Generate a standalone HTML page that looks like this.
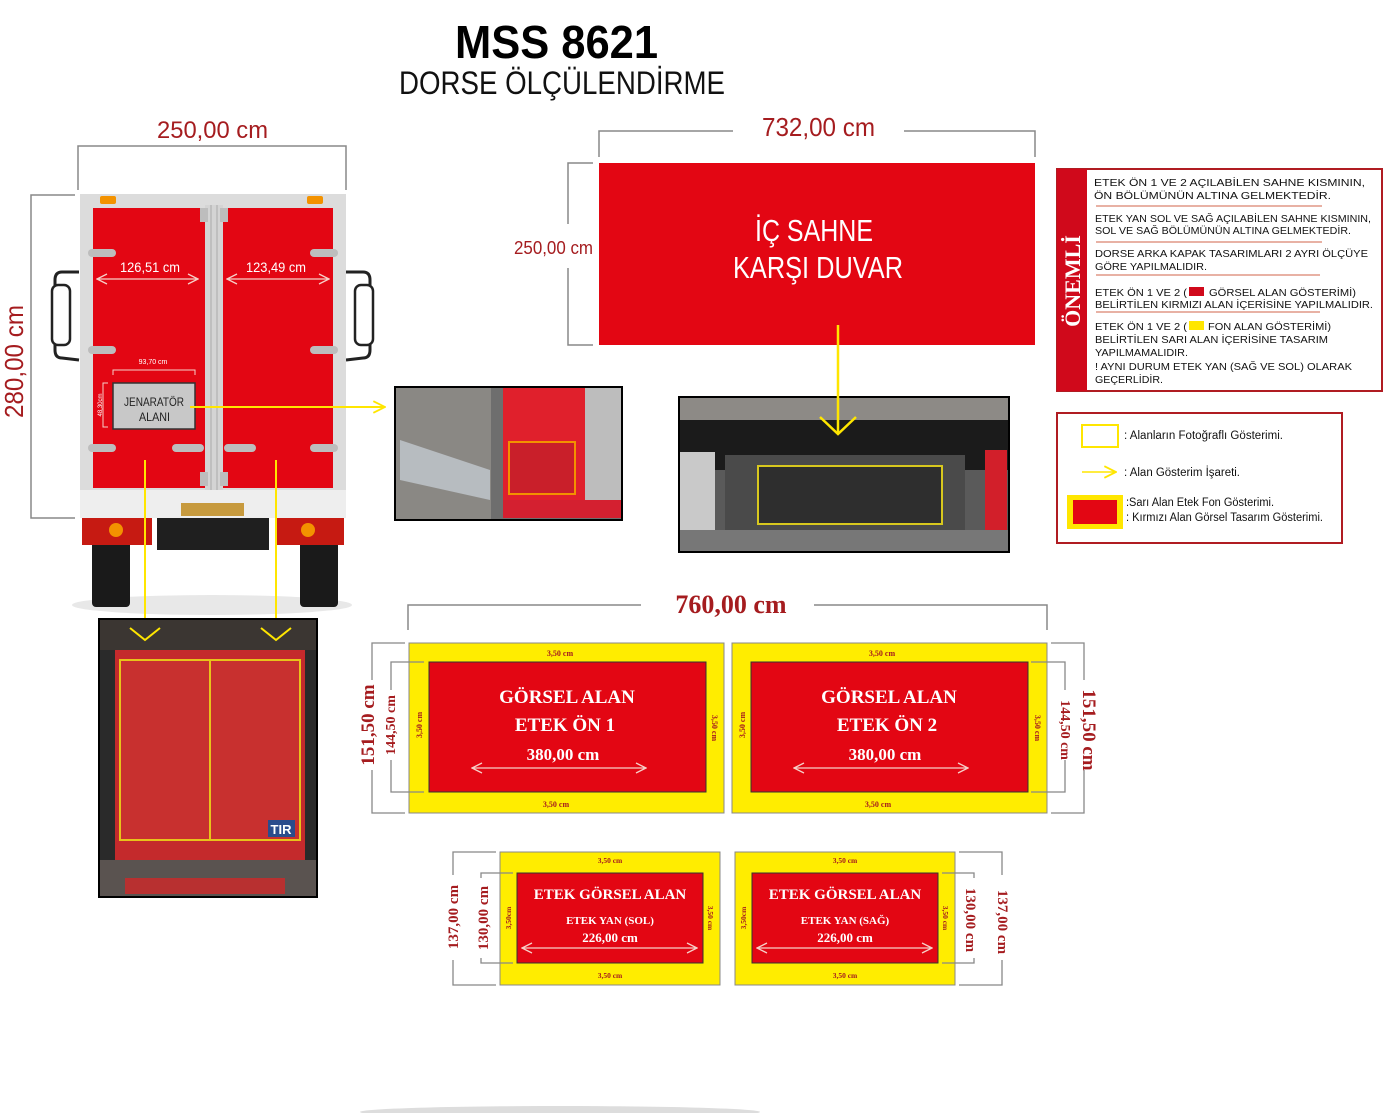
<!DOCTYPE html>
<html><head><meta charset="utf-8"><style>
html,body{margin:0;padding:0;background:#fff;width:1392px;height:1113px;overflow:hidden}
svg{display:block}
.s{font-family:"Liberation Sans Narrow","Liberation Sans",sans-serif}
.a{font-family:"Liberation Sans",sans-serif}
.f{font-family:"Liberation Serif",serif;font-weight:bold}
</style></head><body>
<svg width="1392" height="1113" viewBox="0 0 1392 1113" xmlns="http://www.w3.org/2000/svg">
<defs>
<marker id="ya" viewBox="0 0 12 12" refX="11" refY="6" markerWidth="14" markerHeight="14" orient="auto" markerUnits="userSpaceOnUse"><path d="M1,1 L11,6 L1,11" fill="none" stroke="#ffe600" stroke-width="1.6"/></marker>
<marker id="wa" viewBox="0 0 12 12" refX="11" refY="6" markerWidth="12" markerHeight="12" orient="auto-start-reverse" markerUnits="userSpaceOnUse"><path d="M1,1 L11,6 L1,11" fill="none" stroke="#f6d0c8" stroke-width="1.3"/></marker>
</defs>

<!-- Title -->
<text x="455" y="58" textLength="203" lengthAdjust="spacingAndGlyphs" class="s" font-weight="bold" font-size="46" fill="#000">MSS 8621</text>
<text x="399" y="94" textLength="326" lengthAdjust="spacingAndGlyphs" class="s" font-size="32" fill="#111">DORSE ÖLÇÜLENDİRME</text>

<!-- Truck dims -->
<text x="157" y="138" textLength="111" lengthAdjust="spacingAndGlyphs" class="s" font-size="24" fill="#a51c1f">250,00 cm</text>
<path d="M78,190 V146 H346 V190" fill="none" stroke="#888" stroke-width="1.5"/>
<path d="M75,195 H31 V518 H75" fill="none" stroke="#888" stroke-width="1.5"/>
<text transform="translate(23,418) rotate(-90)" textLength="113" lengthAdjust="spacingAndGlyphs" class="s" font-size="26" fill="#a51c1f">280,00 cm</text>

<!-- Truck -->
<ellipse cx="212" cy="605" rx="140" ry="10" fill="#e8e8e8"/>
<rect x="92" y="540" width="38" height="67" rx="4" fill="#1a1a1a"/>
<rect x="300" y="540" width="38" height="67" rx="4" fill="#1a1a1a"/>
<rect x="157" y="517" width="112" height="33" fill="#1f1f1f"/>
<rect x="82" y="517" width="70" height="28" fill="#c61a12"/>
<rect x="276" y="517" width="68" height="28" fill="#c61a12"/>
<circle cx="116" cy="530" r="7" fill="#f39200"/>
<circle cx="308" cy="530" r="7" fill="#f39200"/>
<path d="M79,272 L62,272 Q55,272 55,280 L55,350 Q55,358 62,358 L79,360" fill="none" stroke="#222" stroke-width="3"/>
<rect x="52" y="285" width="18" height="60" rx="6" fill="#fff" stroke="#222" stroke-width="2.5"/>
<path d="M346,272 L363,272 Q370,272 370,280 L370,350 Q370,358 363,358 L346,360" fill="none" stroke="#222" stroke-width="3"/>
<rect x="355" y="285" width="18" height="60" rx="6" fill="#fff" stroke="#222" stroke-width="2.5"/>
<rect x="80" y="194" width="266" height="324" fill="#dcdcdc"/>
<rect x="80" y="490" width="266" height="28" fill="#eeeeee"/>
<rect x="181" y="503" width="63" height="13" fill="#c79a3e"/>
<rect x="100" y="196" width="16" height="8" rx="2" fill="#f39200"/>
<rect x="307" y="196" width="16" height="8" rx="2" fill="#f39200"/>
<rect x="93" y="208" width="112" height="280" fill="#e30613"/>
<rect x="223" y="208" width="110" height="280" fill="#e30613"/>
<rect x="205" y="205" width="18" height="285" fill="#d4d4d4"/>
<line x1="211" y1="205" x2="211" y2="490" stroke="#aaa"/>
<line x1="217" y1="205" x2="217" y2="490" stroke="#aaa"/>
<g fill="#bdbdbd">
<rect x="88" y="249" width="28" height="8" rx="4"/><rect x="310" y="249" width="28" height="8" rx="4"/>
<rect x="88" y="346" width="28" height="8" rx="4"/><rect x="310" y="346" width="28" height="8" rx="4"/>
<rect x="88" y="444" width="28" height="8" rx="4"/><rect x="310" y="444" width="28" height="8" rx="4"/>
<rect x="172" y="444" width="32" height="8" rx="4"/><rect x="224" y="444" width="32" height="8" rx="4"/>
<rect x="200" y="208" width="8" height="14"/><rect x="220" y="208" width="8" height="14"/>
<rect x="200" y="472" width="8" height="14"/><rect x="220" y="472" width="8" height="14"/>
</g>
<text x="120" y="272" textLength="60" lengthAdjust="spacingAndGlyphs" class="s" font-size="14" fill="#fff">126,51 cm</text>
<line x1="97" y1="279" x2="198" y2="279" stroke="#f6d0c8" stroke-width="1.3" marker-start="url(#wa)" marker-end="url(#wa)"/>
<text x="246" y="272" textLength="60" lengthAdjust="spacingAndGlyphs" class="s" font-size="14" fill="#fff">123,49 cm</text>
<line x1="227" y1="279" x2="329" y2="279" stroke="#f6d0c8" stroke-width="1.3" marker-start="url(#wa)" marker-end="url(#wa)"/>
<text x="153" y="364" text-anchor="middle" class="s" font-size="7" fill="#fff">93,70 cm</text>
<path d="M113,375 V370 H195 V375" fill="none" stroke="#f6d0c8"/>
<path d="M108,383 H103 V427 H108" fill="none" stroke="#f6d0c8"/>
<text transform="translate(102,405) rotate(-90)" text-anchor="middle" class="s" font-size="6" fill="#fff">48,30cm</text>
<rect x="113" y="383" width="82" height="46" fill="#c8c8c8" stroke="#333" stroke-width="1.5"/>
<text x="124" y="406" textLength="60" lengthAdjust="spacingAndGlyphs" class="s" font-size="12" fill="#222">JENARATÖR</text>
<text x="139" y="421" textLength="31" lengthAdjust="spacingAndGlyphs" class="s" font-size="12" fill="#222">ALANI</text>

<!-- yellow arrows -->
<line x1="190" y1="407" x2="385" y2="407" stroke="#ffe600" stroke-width="2" marker-end="url(#ya)"/>
<line x1="145" y1="460" x2="145" y2="640" stroke="#ffe600" stroke-width="2"/>
<line x1="276" y1="460" x2="276" y2="640" stroke="#ffe600" stroke-width="2"/>

<!-- Photo 1 -->
<rect x="99" y="619" width="218" height="278" fill="#2a2a2a" stroke="#000" stroke-width="2"/>
<rect x="100" y="620" width="216" height="30" fill="#3b3632"/>
<rect x="115" y="650" width="190" height="210" fill="#c42a2c"/>
<rect x="120" y="660" width="180" height="180" fill="#c8302f" stroke="#e8c21a" stroke-width="2"/>
<line x1="210" y1="660" x2="210" y2="840" stroke="#e8c21a" stroke-width="2"/>
<rect x="268" y="820" width="27" height="17" fill="#2a4c8c"/>
<text x="281" y="834" text-anchor="middle" class="a" font-weight="bold" font-size="13" fill="#fff">TIR</text>
<rect x="100" y="860" width="216" height="36" fill="#5a5350"/>
<rect x="125" y="878" width="160" height="16" fill="#b83030"/>
<path d="M130,628 L145,640 L160,628" fill="none" stroke="#ffe600" stroke-width="2"/>
<path d="M261,628 L276,640 L291,628" fill="none" stroke="#ffe600" stroke-width="2"/>

<!-- Photo 2 -->
<rect x="395" y="387" width="227" height="133" fill="#6e6e6e" stroke="#000" stroke-width="2"/>
<rect x="396" y="388" width="95" height="131" fill="#8a8884"/>
<path d="M400,440 L490,470 L490,500 L400,480 Z" fill="#b7bcc0"/>
<rect x="585" y="388" width="36" height="120" fill="#bdbdbd"/>
<rect x="503" y="388" width="82" height="120" fill="#e0202c"/>
<rect x="503" y="500" width="118" height="18" fill="#d42030"/>
<rect x="509" y="442" width="66" height="52" fill="#c91f2a" stroke="#f39200" stroke-width="2"/>

<!-- Red wall -->
<path d="M599,157 V131 H733 M904,131 H1035 V157" fill="none" stroke="#888" stroke-width="1.5"/>
<text x="762" y="136" textLength="113" lengthAdjust="spacingAndGlyphs" class="s" font-size="26" fill="#a51c1f">732,00 cm</text>
<path d="M593,163 H568 V224 M568,268 V345 H593" fill="none" stroke="#888" stroke-width="1.5"/>
<text x="514" y="254" textLength="79" lengthAdjust="spacingAndGlyphs" class="s" font-size="18" fill="#a51c1f">250,00 cm</text>
<rect x="599" y="163" width="436" height="182" fill="#e30613"/>
<text x="755" y="241" textLength="118" lengthAdjust="spacingAndGlyphs" class="s" font-size="31" fill="#fff">İÇ SAHNE</text>
<text x="733" y="278" textLength="170" lengthAdjust="spacingAndGlyphs" class="s" font-size="31" fill="#fff">KARŞI DUVAR</text>

<!-- Photo 3 -->
<rect x="679" y="397" width="330" height="155" fill="#5a5a5a" stroke="#000" stroke-width="2"/>
<rect x="680" y="398" width="328" height="22" fill="#8d8a86"/>
<rect x="680" y="420" width="328" height="50" fill="#1b1b1b"/>
<rect x="680" y="452" width="35" height="90" fill="#c9c9c9"/>
<rect x="725" y="455" width="240" height="90" fill="#4a4a4a"/>
<rect x="758" y="466" width="184" height="58" fill="#2e2e2e" stroke="#d8c81e" stroke-width="2"/>
<rect x="985" y="450" width="22" height="92" fill="#d21f2a"/>
<rect x="680" y="530" width="328" height="21" fill="#777"/>
<line x1="838" y1="325" x2="838" y2="433" stroke="#ffe600" stroke-width="2.5"/>
<path d="M820,417 L838,434 L856,417" fill="none" stroke="#ffe600" stroke-width="2.5"/>

<!-- ÖNEMLİ notes -->
<rect x="1057" y="169" width="325" height="222" fill="#fff" stroke="#b01c22" stroke-width="2"/>
<rect x="1057" y="169" width="30" height="222" fill="#d0091b"/>
<text transform="translate(1080,281) rotate(-90)" text-anchor="middle" class="f" font-size="22" fill="#fff">ÖNEMLİ</text>
<g class="a" font-size="10" fill="#111">
<text x="1094" y="186" textLength="271" lengthAdjust="spacingAndGlyphs">ETEK ÖN 1 VE 2 AÇILABİLEN SAHNE KISMININ,</text>
<text x="1094" y="199" textLength="237" lengthAdjust="spacingAndGlyphs">ÖN BÖLÜMÜNÜN ALTINA GELMEKTEDİR.</text>
<text x="1095" y="222" textLength="276" lengthAdjust="spacingAndGlyphs">ETEK YAN SOL VE SAĞ AÇILABİLEN SAHNE KISMININ,</text>
<text x="1095" y="234" textLength="256" lengthAdjust="spacingAndGlyphs">SOL VE SAĞ BÖLÜMÜNÜN ALTINA GELMEKTEDİR.</text>
<text x="1095" y="257" textLength="273" lengthAdjust="spacingAndGlyphs">DORSE ARKA KAPAK TASARIMLARI 2 AYRI ÖLÇÜYE</text>
<text x="1095" y="270" textLength="112" lengthAdjust="spacingAndGlyphs">GÖRE YAPILMALIDIR.</text>
<text x="1095" y="296" textLength="92" lengthAdjust="spacingAndGlyphs">ETEK ÖN 1 VE 2 (</text>
<text x="1209" y="296" textLength="147" lengthAdjust="spacingAndGlyphs">GÖRSEL ALAN GÖSTERİMİ)</text>
<text x="1095" y="308" textLength="278" lengthAdjust="spacingAndGlyphs">BELİRTİLEN KIRMIZI ALAN İÇERİSİNE YAPILMALIDIR.</text>
<text x="1095" y="330" textLength="92" lengthAdjust="spacingAndGlyphs">ETEK ÖN 1 VE 2 (</text>
<text x="1208" y="330" textLength="123" lengthAdjust="spacingAndGlyphs">FON ALAN GÖSTERİMİ)</text>
<text x="1095" y="343" textLength="233" lengthAdjust="spacingAndGlyphs">BELİRTİLEN SARI ALAN İÇERİSİNE TASARIM</text>
<text x="1095" y="356" textLength="93" lengthAdjust="spacingAndGlyphs">YAPILMAMALIDIR.</text>
<text x="1095" y="370" textLength="257" lengthAdjust="spacingAndGlyphs">! AYNI DURUM ETEK YAN (SAĞ VE SOL) OLARAK</text>
<text x="1095" y="383" textLength="68" lengthAdjust="spacingAndGlyphs">GEÇERLİDİR.</text>
</g>
<rect x="1189" y="287" width="15" height="9" fill="#d0091b"/>
<rect x="1189" y="321" width="15" height="9" fill="#ffe600"/>
<g stroke="#d9826e" stroke-width="1.2">
<line x1="1096" y1="206" x2="1322" y2="206"/>
<line x1="1096" y1="242" x2="1322" y2="242"/>
<line x1="1096" y1="275" x2="1320" y2="275"/>
<line x1="1096" y1="312" x2="1320" y2="312"/>
</g>

<!-- Legend -->
<rect x="1057" y="413" width="285" height="130" fill="#fff" stroke="#b01c22" stroke-width="2"/>
<rect x="1082" y="425" width="36" height="22" fill="#fff" stroke="#ffe600" stroke-width="2"/>
<text x="1124" y="439" textLength="159" lengthAdjust="spacingAndGlyphs" class="s" font-size="11.5" fill="#111">: Alanların Fotoğraflı Gösterimi.</text>
<line x1="1082" y1="472" x2="1116" y2="472" stroke="#ffe600" stroke-width="1.5" marker-end="url(#ya)"/>
<text x="1124" y="476" textLength="116" lengthAdjust="spacingAndGlyphs" class="s" font-size="11.5" fill="#111">: Alan Gösterim İşareti.</text>
<rect x="1067" y="495" width="56" height="34" fill="#ffe600"/>
<rect x="1073" y="500" width="44" height="24" fill="#e30613"/>
<text x="1126" y="506" textLength="148" lengthAdjust="spacingAndGlyphs" class="s" font-size="11.5" fill="#111">:Sarı Alan Etek Fon Gösterimi.</text>
<text x="1126" y="521" textLength="197" lengthAdjust="spacingAndGlyphs" class="s" font-size="11.5" fill="#111">: Kırmızı Alan Görsel Tasarım Gösterimi.</text>

<!-- 760 -->
<path d="M408,630 V605 H641 M814,605 H1047 V630" fill="none" stroke="#888" stroke-width="1.5"/>
<text x="731" y="613" text-anchor="middle" class="f" font-size="26" fill="#a51c1f">760,00 cm</text>

<!-- Etek ön 1 -->
<rect x="409" y="643" width="315" height="170" fill="#ffed00" stroke="#888"/>
<rect x="429" y="662" width="277" height="130" fill="#e30613" stroke="#333"/>
<path d="M405,643 H372 V813 H405" fill="none" stroke="#888" stroke-width="1.3"/>
<path d="M424,662 H391 V792 H424" fill="none" stroke="#888" stroke-width="1.3"/>
<rect x="357" y="680" width="20" height="90" fill="#fff"/>
<rect x="382" y="690" width="18" height="70" fill="#fff"/>
<text transform="translate(374,725) rotate(-90)" text-anchor="middle" class="f" font-size="19" fill="#a51c1f">151,50 cm</text>
<text transform="translate(395,725) rotate(-90)" text-anchor="middle" class="f" font-size="14" fill="#a51c1f">144,50 cm</text>
<text x="560" y="656" text-anchor="middle" class="f" font-size="8" fill="#a51c1f">3,50 cm</text>
<text x="556" y="807" text-anchor="middle" class="f" font-size="8" fill="#a51c1f">3,50 cm</text>
<text transform="translate(422,725) rotate(-90)" text-anchor="middle" class="f" font-size="8" fill="#a51c1f">3,50 cm</text>
<text transform="translate(712,728) rotate(90)" text-anchor="middle" class="f" font-size="8" fill="#a51c1f">3,50 cm</text>
<text x="567" y="703" text-anchor="middle" class="f" font-size="19" fill="#fff">GÖRSEL ALAN</text>
<text x="565" y="731" text-anchor="middle" class="f" font-size="19" fill="#fff">ETEK ÖN 1</text>
<text x="563" y="760" text-anchor="middle" class="f" font-size="17" fill="#fff">380,00 cm</text>
<line x1="472" y1="768" x2="646" y2="768" stroke="#f6d0c8" stroke-width="1.3" marker-start="url(#wa)" marker-end="url(#wa)"/>

<!-- Etek ön 2 -->
<rect x="732" y="643" width="315" height="170" fill="#ffed00" stroke="#888"/>
<rect x="751" y="662" width="277" height="130" fill="#e30613" stroke="#333"/>
<path d="M1051,643 H1084 V813 H1051" fill="none" stroke="#888" stroke-width="1.3"/>
<path d="M1031,662 H1065 V792 H1031" fill="none" stroke="#888" stroke-width="1.3"/>
<rect x="1078" y="680" width="20" height="90" fill="#fff"/>
<rect x="1058" y="690" width="16" height="70" fill="#fff"/>
<text transform="translate(1083,730) rotate(90)" text-anchor="middle" class="f" font-size="19" fill="#a51c1f">151,50 cm</text>
<text transform="translate(1061,730) rotate(90)" text-anchor="middle" class="f" font-size="14" fill="#a51c1f">144,50 cm</text>
<text x="882" y="656" text-anchor="middle" class="f" font-size="8" fill="#a51c1f">3,50 cm</text>
<text x="878" y="807" text-anchor="middle" class="f" font-size="8" fill="#a51c1f">3,50 cm</text>
<text transform="translate(745,725) rotate(-90)" text-anchor="middle" class="f" font-size="8" fill="#a51c1f">3,50 cm</text>
<text transform="translate(1035,728) rotate(90)" text-anchor="middle" class="f" font-size="8" fill="#a51c1f">3,50 cm</text>
<text x="889" y="703" text-anchor="middle" class="f" font-size="19" fill="#fff">GÖRSEL ALAN</text>
<text x="887" y="731" text-anchor="middle" class="f" font-size="19" fill="#fff">ETEK ÖN 2</text>
<text x="885" y="760" text-anchor="middle" class="f" font-size="17" fill="#fff">380,00 cm</text>
<line x1="794" y1="768" x2="968" y2="768" stroke="#f6d0c8" stroke-width="1.3" marker-start="url(#wa)" marker-end="url(#wa)"/>

<!-- Etek yan sol -->
<rect x="500" y="852" width="220" height="133" fill="#ffed00" stroke="#888"/>
<rect x="517" y="873" width="186" height="90" fill="#e30613" stroke="#333"/>
<path d="M496,852 H453 V985 H496" fill="none" stroke="#888" stroke-width="1.3"/>
<path d="M513,873 H481 V963 H513" fill="none" stroke="#888" stroke-width="1.3"/>
<rect x="443" y="875" width="20" height="85" fill="#fff"/>
<rect x="474" y="878" width="16" height="80" fill="#fff"/>
<text transform="translate(458,917) rotate(-90)" text-anchor="middle" class="f" font-size="15" fill="#a51c1f">137,00 cm</text>
<text transform="translate(488,918) rotate(-90)" text-anchor="middle" class="f" font-size="15" fill="#a51c1f">130,00 cm</text>
<text x="610" y="863" text-anchor="middle" class="f" font-size="7.5" fill="#a51c1f">3,50 cm</text>
<text x="610" y="978" text-anchor="middle" class="f" font-size="7.5" fill="#a51c1f">3,50 cm</text>
<text transform="translate(511,918) rotate(-90)" text-anchor="middle" class="f" font-size="7.5" fill="#a51c1f">3,50cm</text>
<text transform="translate(708,918) rotate(90)" text-anchor="middle" class="f" font-size="7.5" fill="#a51c1f">3,50 cm</text>
<text x="610" y="899" text-anchor="middle" class="f" font-size="15" fill="#fff">ETEK GÖRSEL ALAN</text>
<text x="610" y="924" text-anchor="middle" class="f" font-size="11" fill="#fff">ETEK YAN (SOL)</text>
<text x="610" y="942" text-anchor="middle" class="f" font-size="13" fill="#fff">226,00 cm</text>
<line x1="522" y1="948" x2="697" y2="948" stroke="#f6d0c8" stroke-width="1.3" marker-start="url(#wa)" marker-end="url(#wa)"/>

<!-- Etek yan sağ -->
<rect x="735" y="852" width="220" height="133" fill="#ffed00" stroke="#888"/>
<rect x="752" y="873" width="186" height="90" fill="#e30613" stroke="#333"/>
<path d="M959,852 H1002 V985 H959" fill="none" stroke="#888" stroke-width="1.3"/>
<path d="M942,873 H974 V963 H942" fill="none" stroke="#888" stroke-width="1.3"/>
<rect x="992" y="875" width="20" height="85" fill="#fff"/>
<rect x="963" y="878" width="16" height="80" fill="#fff"/>
<text transform="translate(998,922) rotate(90)" text-anchor="middle" class="f" font-size="15" fill="#a51c1f">137,00 cm</text>
<text transform="translate(966,920) rotate(90)" text-anchor="middle" class="f" font-size="15" fill="#a51c1f">130,00 cm</text>
<text x="845" y="863" text-anchor="middle" class="f" font-size="7.5" fill="#a51c1f">3,50 cm</text>
<text x="845" y="978" text-anchor="middle" class="f" font-size="7.5" fill="#a51c1f">3,50 cm</text>
<text transform="translate(746,918) rotate(-90)" text-anchor="middle" class="f" font-size="7.5" fill="#a51c1f">3,50cm</text>
<text transform="translate(943,918) rotate(90)" text-anchor="middle" class="f" font-size="7.5" fill="#a51c1f">3,50 cm</text>
<text x="845" y="899" text-anchor="middle" class="f" font-size="15" fill="#fff">ETEK GÖRSEL ALAN</text>
<text x="845" y="924" text-anchor="middle" class="f" font-size="11" fill="#fff">ETEK YAN (SAĞ)</text>
<text x="845" y="942" text-anchor="middle" class="f" font-size="13" fill="#fff">226,00 cm</text>
<line x1="757" y1="948" x2="932" y2="948" stroke="#f6d0c8" stroke-width="1.3" marker-start="url(#wa)" marker-end="url(#wa)"/>

<ellipse cx="560" cy="1112" rx="200" ry="6" fill="#ddd"/>
</svg>
</body></html>
